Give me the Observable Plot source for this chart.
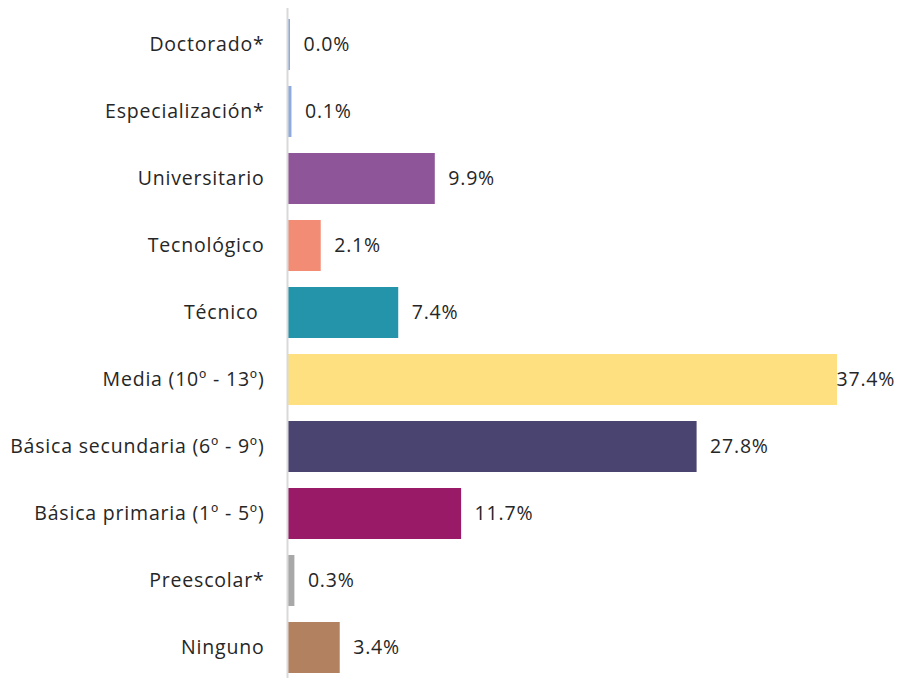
<!DOCTYPE html>
<html>
<head>
<meta charset="utf-8">
<script src="https://cdn.jsdelivr.net/npm/d3@7"></script>
<script src="https://cdn.jsdelivr.net/npm/@observablehq/plot@0.6"></script>
<style>
  html, body { margin: 0; padding: 0; background: #fff; }
  #chart svg { display: block; }
  #chart svg text { letter-spacing: 0.8px; }
</style>
</head>
<body>
<div id="chart"></div>
<script>
const categories = [
  "Doctorado*",
  "Especialización*",
  "Universitario",
  "Tecnológico",
  "Técnico\u00a0",
  "Media (10º - 13º)",
  "Básica secundaria (6º - 9º)",
  "Básica primaria (1º - 5º)",
  "Preescolar*",
  "Ninguno"
];
const values = [0.0, 0.1, 9.9, 2.1, 7.4, 37.4, 27.8, 11.7, 0.3, 3.4];
const valueLabels = ["0.0%", "0.1%", "9.9%", "2.1%", "7.4%", "37.4%", "27.8%", "11.7%", "0.3%", "3.4%"];
const colors = ["#8FAADC", "#8FAADC", "#8E5599", "#F28C74", "#2394A9", "#FEE081", "#4A4470", "#991B67", "#A8A8A8", "#B28160"];

const data = categories.map((c, i) => ({cat: c, v: values[i], label: valueLabels[i], color: colors[i]}));
const vmax = d3.max(values);

const chart = Plot.plot({
  width: 899,
  height: 678,
  marginLeft: 288,
  marginRight: 64,
  marginTop: 16,
  marginBottom: 3,
  style: {fontFamily: "'Open Sans', sans-serif", fontSize: "19.5px", color: "#262626", background: "#fff"},
  x: {domain: [0, vmax], axis: null},
  y: {domain: categories, paddingInner: 0.245, paddingOuter: 0, label: null},
  marks: [
    Plot.barX(data, {y: "cat", x1: 0, x2: "v", fill: "color", insetLeft: 0, insetRight: -2}),
    Plot.ruleX([0], {stroke: "#D9D9D9", strokeWidth: 2, dx: -1, insetTop: -8, insetBottom: -3}),
    Plot.text(data.filter(d => d.v < vmax), {y: "cat", x: "v", text: "label", textAnchor: "start", dx: 15, fill: "#262626", fontSize: 19.5}),
    Plot.text(data.filter(d => d.v === vmax), {y: "cat", x: "v", text: "label", textAnchor: "start", dx: 1, fill: "#262626", fontSize: 19.5}),
    Plot.axisY({tickSize: 0, tickPadding: 24, fontSize: 19.5, fill: "#262626", label: null})
  ]
});
document.getElementById("chart").appendChild(chart);
</script>
</body>
</html>
